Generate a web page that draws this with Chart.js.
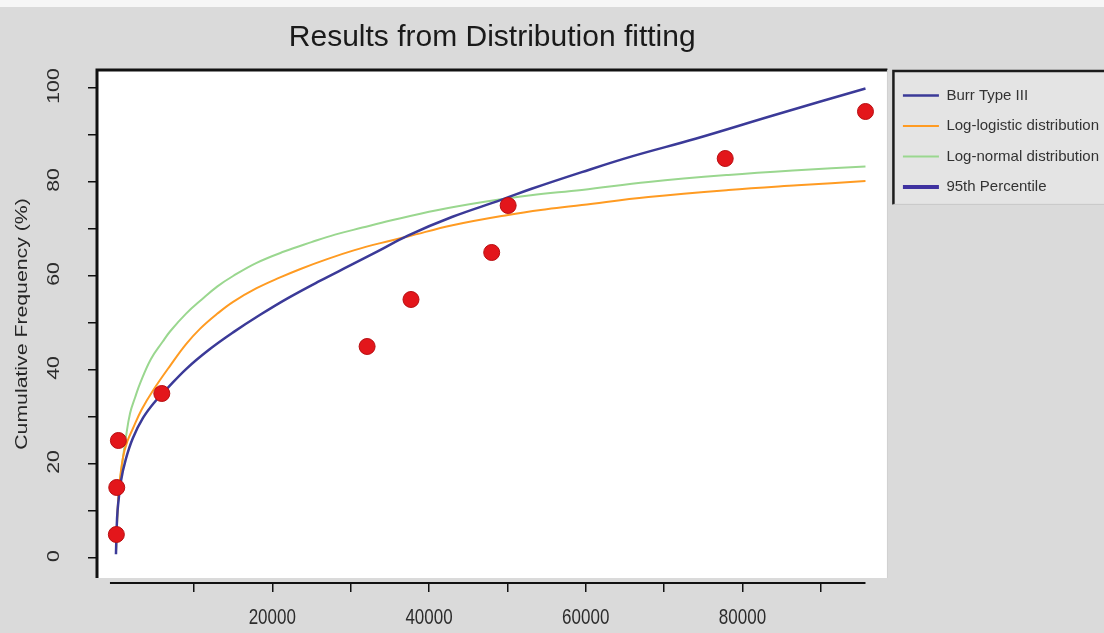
<!DOCTYPE html>
<html>
<head>
<meta charset="utf-8">
<script src="https://cdn.jsdelivr.net/npm/chart.js@4.4.1/dist/chart.umd.min.js"></script>
<style>
  body { margin: 0; background: #dadada; }
</style>
</head>
<body>
<canvas id="myChart" width="1104" height="633"></canvas>
<script>
// observed cumulative frequencies
const pointX = [100, 150, 360, 5900, 32100, 37700, 48000, 50100, 77800, 95700];
const pointY = [5, 15, 25, 35, 45, 55, 65, 75, 85, 95];

// fitted curves
const burrX = [50, 120, 250, 700, 1300, 2200, 3500, 5000, 6500, 9000, 12000, 15000, 18500, 22000, 26000, 30000, 33500, 37300, 43000, 49200, 53000, 59500, 66000, 74000, 84000, 95700];
const burrY = [0.8, 5, 10, 16.5, 21, 25.5, 29.8, 33.2, 35.9, 40.2, 44.4, 48, 51.8, 55.3, 58.9, 62.3, 65.3, 68.6, 72.6, 76.2, 78.5, 82.1, 85.5, 89.2, 94.2, 99.9];

const logLogX = [50, 200, 450, 960, 1500, 2200, 3300, 4800, 7000, 9000, 10800, 13000, 15000, 18000, 21000, 23600, 27000, 30500, 33800, 37300, 43000, 50100, 55000, 59500, 68000, 78200, 87000, 95700];
const logLogY = [1, 8, 15, 21.5, 24.8, 27.5, 31.5, 35.7, 41, 45.5, 48.8, 52, 54.5, 57.4, 59.7, 61.5, 63.6, 65.5, 67, 68.4, 70.8, 73, 74.2, 75.1, 76.8, 78.3, 79.3, 80.2];

const logNormX = [50, 200, 450, 800, 1300, 1850, 2500, 3140, 4500, 6000, 7000, 9000, 11000, 13000, 15000, 18000, 21500, 25000, 28000, 31500, 35100, 41000, 47500, 53000, 59500, 68000, 78200, 87000, 95700];
const logNormY = [1, 8, 14.5, 19.5, 25.5, 30.8, 34.2, 37.2, 42.3, 46, 48.3, 52, 55, 57.8, 60, 62.8, 65.2, 67.2, 68.8, 70.3, 71.8, 74, 75.9, 77.2, 78.3, 80, 81.5, 82.5, 83.3];

const xTickValues = [10000, 20000, 30000, 40000, 50000, 60000, 70000, 80000, 90000];
const xLabelValues = [20000, 40000, 60000, 80000];
const yTickValues = [0, 10, 20, 30, 40, 50, 60, 70, 80, 90, 100];
const yLabelValues = [0, 20, 40, 60, 80, 100];

const toXY = (xs, ys) => xs.map((x, i) => ({ x: x, y: ys[i] }));

const GAP = 5; // space between plot box and the x axis line

function stretchText(ctx, text, x, y, rot, sy) {
  ctx.save();
  ctx.translate(x, y);
  ctx.scale(1, sy);
  ctx.rotate(rot);
  ctx.fillText(text, 0, 0);
  ctx.restore();
}

const rStyle = {
  id: "rStyle",
  beforeDraw(chart) {
    const { ctx, chartArea: a, legend } = chart;
    ctx.save();
    ctx.fillStyle = "#dadada";
    ctx.fillRect(0, 0, chart.width, chart.height);
    ctx.fillStyle = "#f6f6f6";
    ctx.fillRect(0, 0, chart.width, 7);
    ctx.fillStyle = "#ffffff";
    ctx.fillRect(a.left, a.top, a.right - a.left, a.bottom - GAP - a.top);

    // legend frame
    const boxes = legend.legendHitBoxes;
    const last = boxes[boxes.length - 1];
    const lx = legend.left + 6;
    const ly = boxes[0].top - 17;
    const lb = last.top + last.height + 10;
    ctx.fillStyle = "#e4e4e4";
    ctx.fillRect(lx, ly, chart.width - lx, lb - ly);
    ctx.strokeStyle = "#1c1c1c";
    ctx.lineWidth = 2.5;
    ctx.beginPath();
    ctx.moveTo(lx, lb);
    ctx.lineTo(lx, ly);
    ctx.lineTo(chart.width, ly);
    ctx.stroke();
    ctx.strokeStyle = "#c8c8c8";
    ctx.lineWidth = 1;
    ctx.beginPath();
    ctx.moveTo(lx, lb);
    ctx.lineTo(chart.width, lb);
    ctx.stroke();
    ctx.restore();
  },
  afterDraw(chart) {
    const { ctx, chartArea: a, scales } = chart;
    const xs = scales.x;
    const ys = scales.y;
    ctx.save();
    // plot frame
    ctx.strokeStyle = "#111111";
    ctx.lineWidth = 3;
    ctx.beginPath();
    ctx.moveTo(a.left, a.bottom - GAP);
    ctx.lineTo(a.left, a.top);
    ctx.lineTo(a.right, a.top);
    ctx.stroke();
    ctx.strokeStyle = "#cfcfcf";
    ctx.lineWidth = 1;
    ctx.beginPath();
    ctx.moveTo(a.right, a.top);
    ctx.lineTo(a.right, a.bottom - GAP);
    ctx.stroke();

    // x axis line over the data range
    const allX = pointX.concat(burrX, logLogX, logNormX);
    ctx.strokeStyle = "#111111";
    ctx.lineWidth = 2;
    ctx.beginPath();
    ctx.moveTo(xs.getPixelForValue(Math.min(...allX)) - 6, a.bottom);
    ctx.lineTo(xs.getPixelForValue(Math.max(...allX)), a.bottom);
    ctx.stroke();

    // tick labels
    ctx.fillStyle = "#2c2c2c";
    ctx.textAlign = "center";
    ctx.textBaseline = "middle";
    ctx.font = "17px 'Liberation Sans', Arial, sans-serif";
    xLabelValues.forEach((v) => {
      stretchText(ctx, String(v), xs.getPixelForValue(v), a.bottom + 35, 0, 1.3);
    });
    yLabelValues.forEach((v) => {
      stretchText(ctx, String(v), a.left - 43, ys.getPixelForValue(v) - 2, -Math.PI / 2, 1.25);
    });

    // y axis title
    ctx.fillStyle = "#262626";
    stretchText(ctx, "Cumulative Frequency (%)", 22, (a.top + a.bottom - GAP) / 2, -Math.PI / 2, 1.25);
    ctx.restore();
  },
};

const data = {
  datasets: [
    {
      type: "scatter",
      label: "",
      data: toXY(pointX, pointY),
      backgroundColor: "#e3161b",
      borderColor: "#b80f12",
      borderWidth: 1,
      pointRadius: 8,
      order: 0,
    },
    {
      type: "line",
      label: "Burr Type III",
      data: toXY(burrX, burrY),
      borderColor: "#3b3a98",
      borderWidth: 2.5,
      pointRadius: 0,
      tension: 0.4,
      order: 1,
    },
    {
      type: "line",
      label: "Log-logistic distribution",
      data: toXY(logLogX, logLogY),
      borderColor: "#ff9b22",
      borderWidth: 2,
      pointRadius: 0,
      tension: 0.4,
      order: 2,
    },
    {
      type: "line",
      label: "Log-normal distribution",
      data: toXY(logNormX, logNormY),
      borderColor: "#9ad78f",
      borderWidth: 2,
      pointRadius: 0,
      tension: 0.4,
      order: 3,
    },
    {
      type: "line",
      label: "95th Percentile",
      data: [],
      borderColor: "#3f32a0",
      borderWidth: 4,
      pointRadius: 0,
      order: 4,
    },
  ],
};

const config = {
  type: "scatter",
  data: data,
  options: {
    responsive: false,
    animation: false,
    devicePixelRatio: 1,
    layout: {
      padding: { left: 0, right: -5, top: 0, bottom: 0 },
    },
    plugins: {
      tooltip: { enabled: false },
      title: {
        display: true,
        text: "Results from Distribution fitting",
        fullSize: false,
        color: "#1a1a1a",
        font: { family: "'Liberation Sans', Arial, sans-serif", size: 30, weight: "normal" },
        padding: { top: 20, bottom: 14 },
      },
      legend: {
        position: "right",
        align: "start",
        // empty title only pushes the entries down beside the plot
        title: { display: true, text: "", font: { size: 12 }, padding: { top: 58, bottom: 0 } },
        labels: {
          usePointStyle: true,
          pointStyleWidth: 36,
          boxHeight: 15,
          padding: 15.5,
          color: "#333333",
          font: { family: "'Liberation Sans', Arial, sans-serif", size: 15 },
          generateLabels: (chart) =>
            chart.data.datasets
              .map((ds, i) => ({
                text: ds.label,
                datasetIndex: i,
                pointStyle: "line",
                strokeStyle: ds.borderColor,
                fillStyle: ds.borderColor,
                lineWidth: ds.borderWidth,
                fontColor: "#333333",
                hidden: false,
              }))
              .filter((l) => l.text !== ""),
        },
      },
    },
    scales: {
      x: {
        type: "linear",
        position: "bottom",
        min: -2370,
        max: 98500,
        border: { display: false },
        grid: { drawOnChartArea: false, drawTicks: true, tickLength: 9, color: "#111111", lineWidth: 1.5 },
        ticks: { display: false },
        afterBuildTicks: (s) => {
          s.ticks = xTickValues.map((v) => ({ value: v }));
        },
        afterFit: (s) => {
          s.height = 50;
        },
      },
      y: {
        type: "linear",
        position: "left",
        min: -5.32,
        max: 103.83,
        border: { display: false },
        grid: { drawOnChartArea: false, drawTicks: true, tickLength: 9, color: "#111111", lineWidth: 1.5 },
        ticks: { display: false },
        afterBuildTicks: (s) => {
          s.ticks = yTickValues.map((v) => ({ value: v }));
        },
        afterFit: (s) => {
          s.width = 97;
        },
      },
    },
  },
  plugins: [rStyle],
};

const myChart = new Chart(document.getElementById("myChart"), config);
</script>
</body>
</html>
